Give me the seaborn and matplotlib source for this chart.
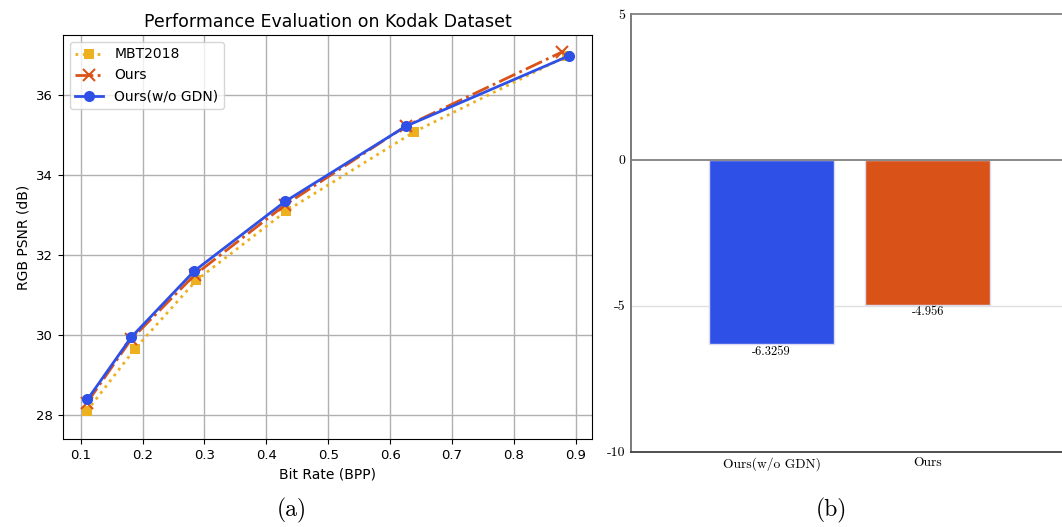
import matplotlib
matplotlib.use("Agg")
import matplotlib.pyplot as plt
import seaborn as sns
import pandas as pd

# ---------------- data ----------------
mbt_bpp = [0.110, 0.187, 0.287, 0.432, 0.639, 0.885]
mbt_psnr = [28.10, 29.64, 31.37, 33.10, 35.08, 36.97]

ours_bpp = [0.110, 0.182, 0.284, 0.430, 0.625, 0.877]
ours_psnr = [28.30, 29.90, 31.50, 33.25, 35.22, 37.07]

nogdn_bpp = [0.111, 0.182, 0.2835, 0.4305, 0.6255, 0.889]
nogdn_psnr = [28.39, 29.95, 31.60, 33.34, 35.22, 36.98]

bar_labels = ["Ours(w/o GDN)", "Ours"]
bar_values = [-6.3259, -4.956]
bar_texts = ["-6.3259", "-4.956"]

x_ticks = [0.1, 0.2, 0.3, 0.4, 0.5, 0.6, 0.7, 0.8, 0.9]
y_ticks = [28, 30, 32, 34, 36]
bar_y_ticks = [5, 0, -5, -10]

# ---------------- figure ----------------
plt.rcParams['axes.unicode_minus'] = False
fig = plt.figure(figsize=(10.62, 5.27), dpi=100)

YEL = "#EDB120"
RED = "#D95319"
BLU = "#2E50E6"

# ---- left panel ----
ax = fig.add_axes([0.0593, 0.167, 0.4984, 0.7666])
sns.lineplot(x=mbt_bpp, y=mbt_psnr, ax=ax, color=YEL, linestyle=":", lw=2,
             marker="s", markersize=7, markeredgewidth=0, markeredgecolor=YEL,
             label="MBT2018")
sns.lineplot(x=ours_bpp, y=ours_psnr, ax=ax, color=RED, linestyle="-.", lw=2,
             marker="x", markersize=8, markeredgewidth=1.5, markeredgecolor=RED,
             label="Ours")
sns.lineplot(x=nogdn_bpp, y=nogdn_psnr, ax=ax, color=BLU, linestyle="-", lw=2,
             marker="o", markersize=8, markeredgewidth=0, markeredgecolor=BLU,
             label="Ours(w/o GDN)")
ax.set_xlim(0.0714, 0.9265)
ax.set_ylim(27.4, 37.5)
ax.set_xticks(x_ticks)
ax.set_xticklabels([f"{v:.1f}" for v in x_ticks])
ax.set_yticks(y_ticks)
ax.grid(True, color="#b0b0b0", lw=1)
ax.set_axisbelow(True)
ax.tick_params(labelsize=9.5)
ax.set_xlabel("Bit Rate (BPP)", fontsize=10)
ax.set_ylabel("RGB PSNR (dB)", fontsize=10)
ax.set_title("Performance Evaluation on Kodak Dataset", fontsize=12.5)
for s in ax.spines.values():
    s.set_color("black")
ax.legend(loc="upper left", fontsize=10)

# ---- right panel ----
ax2 = fig.add_axes([0.5942, 0.1429, 0.4058, 0.8305])
df = pd.DataFrame({"method": bar_labels, "value": bar_values})
sns.barplot(data=df, x="method", y="value", hue="method",
            palette=[BLU, RED], width=0.8, legend=False, ax=ax2,
            edgecolor="#dcdcf0", linewidth=1, saturation=1)
ax2.set_xlim(-0.9, 1.86)
ax2.set_ylim(-10, 5)
ax2.set_yticks(bar_y_ticks)
ax2.set_yticklabels([str(v) for v in bar_y_ticks], family="cmr10", fontsize=10)
ax2.set_xticks([0, 1])
ax2.set_xticklabels(bar_labels, family="cmr10", fontsize=9.7)
ax2.tick_params(length=0, pad=4)
ax2.set_xlabel("")
ax2.set_ylabel("")
ax2.axhline(-5, color="#e0e0e0", lw=1, zorder=0)
ax2.axhline(0, color="#808080", lw=1.3, zorder=3)
ax2.spines["right"].set_visible(False)
ax2.spines["top"].set_color("#808080")
ax2.spines["top"].set_linewidth(1.3)
ax2.spines["left"].set_color("#707070")
ax2.spines["left"].set_linewidth(1.3)
ax2.spines["bottom"].set_color("#404040")
ax2.spines["bottom"].set_linewidth(1.3)
for i, cont in enumerate(ax2.containers):
    labs = bar_texts if len(ax2.containers) == 1 else [bar_texts[i]]
    ax2.bar_label(cont, labels=labs, padding=1, family="cmr10", fontsize=9)

# captions
fig.text(0.275, 0.032, "(a)", family="cmr10", fontsize=17, ha="center", va="center")
fig.text(0.783, 0.032, "(b)", family="cmr10", fontsize=17, ha="center", va="center")

fig.savefig("out.png", dpi=100)
